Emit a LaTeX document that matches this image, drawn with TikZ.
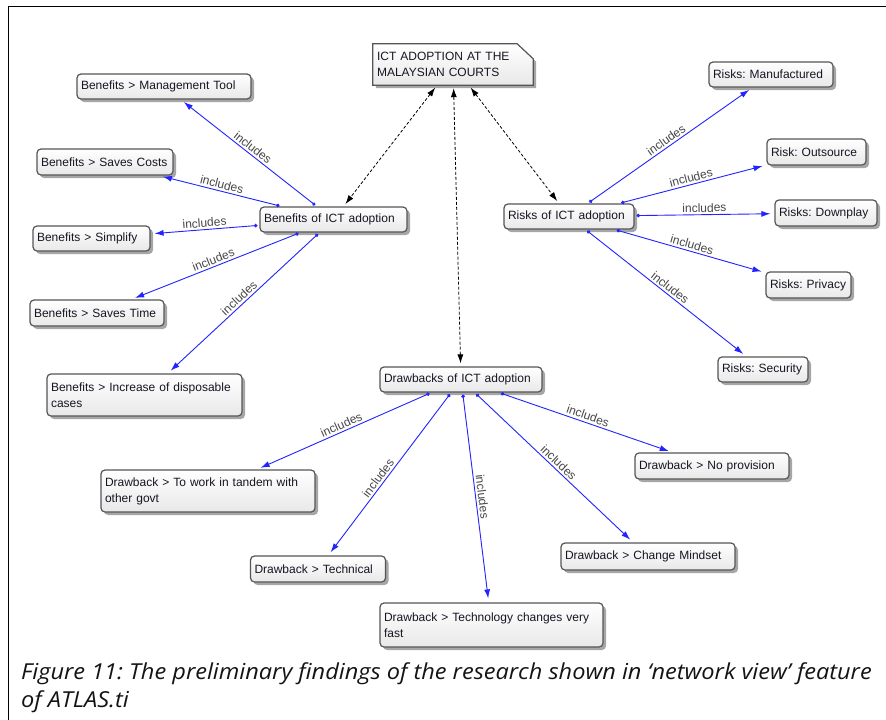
\documentclass[tikz,border=0pt]{standalone}
\usepackage{fontspec}
\setmainfont{Liberation Sans}
\newfontfamily\capfont{Open Sans}
\usetikzlibrary{arrows.meta,shadows,backgrounds,calc}
\definecolor{linkblue}{RGB}{35,35,255}
\definecolor{boxborder}{RGB}{85,85,85}
\definecolor{boxtext}{RGB}{25,20,35}
\frenchspacing
\hyphenpenalty=10000
\tikzset{
  boxtxt/.style={font=\fontsize{12}{16}\selectfont, text=boxtext, inner xsep=4pt, inner ysep=3pt, align=left},
  codebox/.style={boxtxt, draw=boxborder, line width=1.2pt, rounded corners=4pt,
    top color=white, bottom color=black!9,
    drop shadow={shadow xshift=3pt, shadow yshift=-3pt, fill=black, opacity=0.35}},
  link/.style={draw=linkblue, line width=0.9pt, {Circle[length=3.5pt]}-{Latex[length=9pt,width=6pt]}, shorten <=2pt, shorten >=4pt},
  lbl/.style={sloped, above, pos=0.5, font=\fontsize{12}{14}\selectfont, text=black!72, inner sep=2pt},
  assoc/.style={draw=black, line width=0.8pt, densely dashed, {Latex[length=9pt,width=6pt]}-{Latex[length=9pt,width=6pt]}, shorten <=3pt, shorten >=3pt},
  captxt/.style={anchor=base west, inner sep=0, font=\capfont\itshape\fontsize{22}{28}\selectfont, text=black!92},
}
\begin{document}
\begin{tikzpicture}[x=1pt,y=-1pt]
\useasboundingbox (0,0) rectangle (886,720);
\draw[line width=1pt] (8,720) -- (8,6) -- (886,6);

% top node
\node[boxtxt, text width=152pt, minimum height=41pt] (top) at (453,64.5) {ICT ADOPTION AT THE\\MALAYSIAN COURTS};
\begin{scope}[on background layer]
\fill[white] (0,0) rectangle (886,720);
\draw[line width=1pt] (8,720) -- (8,6) -- (886,6);
\path[draw=boxborder, line width=1.2pt, top color=white, bottom color=black!9,
  drop shadow={shadow xshift=3pt, shadow yshift=-3pt, fill=black, opacity=0.35}]
  (top.north west) -- ($(top.north east)+(-16,0)$) -- ($(top.north east)+(0,15)$)
  -- (top.south east) -- (top.south west) -- cycle;
\end{scope}

% benefits
\node[codebox, text width=139pt, minimum height=25pt] (ben) at (333.5,219.5) {Benefits of ICT adoption};
\node[codebox, text width=166pt, minimum height=25pt] (mgmt) at (164,86.5) {Benefits > Management Tool};
\node[codebox, text width=128pt, minimum height=26pt] (costs) at (105,162) {Benefits > Saves Costs};
\node[codebox, text width=109pt, minimum height=25pt] (simp) at (91.5,238.5) {Benefits > Simplify};
\node[codebox, text width=126pt, minimum height=26pt] (time) at (97,313) {Benefits > Saves Time};
\node[codebox, text width=187pt, minimum height=42pt] (incr) at (144.5,395) {Benefits > Increase of disposable\\cases};

% risks
\node[codebox, text width=122pt, minimum height=25pt] (risks) at (569,216.5) {Risks of ICT adoption};
\node[codebox, text width=116pt, minimum height=25pt] (manuf) at (771,74.5) {Risks: Manufactured};
\node[codebox, text width=91pt, minimum height=26pt] (outs) at (816.5,152) {Risk: Outsource};
\node[codebox, text width=94pt, minimum height=26pt] (down) at (826,213) {Risks: Downplay};
\node[codebox, text width=77pt, minimum height=26pt] (priv) at (808.5,285) {Risks: Privacy};
\node[codebox, text width=82pt, minimum height=25pt] (sec) at (763,369.5) {Risks: Security};

% drawbacks
\node[codebox, text width=154pt, minimum height=25pt] (drw) at (461,379.5) {Drawbacks of ICT adoption};
\node[codebox, text width=146pt, minimum height=26pt] (noprov) at (712,466) {Drawback > No provision};
\node[codebox, text width=206pt, minimum height=42pt] (tandem) at (208,491) {Drawback > To work in tandem with\\other govt};
\node[codebox, text width=127pt, minimum height=26pt] (tech) at (318,569) {Drawback > Technical};
\node[codebox, text width=166pt, minimum height=27pt] (mind) at (648,556.5) {Drawback > Change Mindset};
\node[codebox, text width=215pt, minimum height=44pt] (fast) at (491.5,625) {Drawback > Technology changes very\\fast};

% associations
\draw[assoc] (top) -- (ben);
\draw[assoc] (top) -- (drw);
\draw[assoc] (top) -- (risks);

% links
\draw[link] (ben) -- node[lbl]{includes} (mgmt);
\draw[link] (ben) -- node[lbl]{includes} (costs);
\draw[link] (ben) -- node[lbl]{includes} (simp);
\draw[link] (ben) -- node[lbl]{includes} (time);
\draw[link] (ben) -- node[lbl]{includes} (incr);

\draw[link] (risks) -- node[lbl]{includes} (manuf);
\draw[link] (risks) -- node[lbl]{includes} (outs);
\draw[link] (risks) -- node[lbl]{includes} (down);
\draw[link] (risks) -- node[lbl]{includes} (priv);
\draw[link] (risks) -- node[lbl]{includes} (sec);

\draw[link] (drw) -- node[lbl]{includes} (tandem);
\draw[link] (drw) -- node[lbl, pos=0.55]{includes} (tech);
\draw[link] (drw) -- node[lbl]{includes} (fast);
\draw[link] (drw) -- node[lbl]{includes} (mind);
\draw[link] (drw) -- node[lbl]{includes} (noprov);

% caption
\node[captxt] (cap1) at (21,679) {\scalebox{1.07}[1]{Figure 11: The preliminary findings of the research shown in ‘network view’ feature}};
\node[captxt] (cap2) at (21,707) {\scalebox{1.07}[1]{of ATLAS.ti}};
\end{tikzpicture}
\end{document}
